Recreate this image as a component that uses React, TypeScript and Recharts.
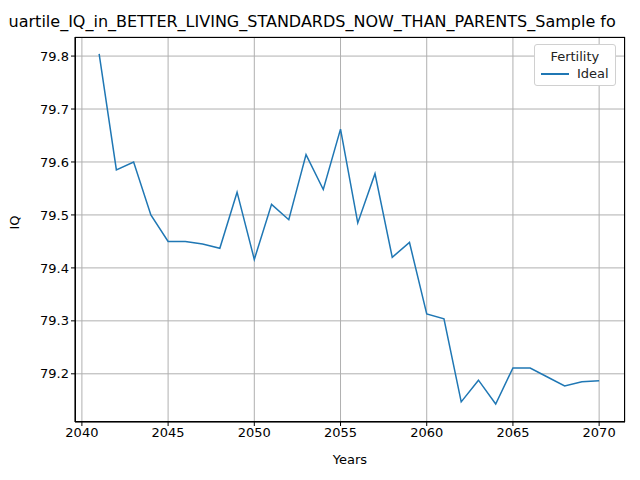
import React from 'react';
import { LineChart, Line, XAxis, YAxis, CartesianGrid, Label } from 'recharts';

const years = [2041, 2042, 2043, 2044, 2045, 2046, 2047, 2048, 2049, 2050, 2051, 2052, 2053, 2054, 2055, 2056, 2057, 2058, 2059, 2060, 2061, 2062, 2063, 2064, 2065, 2066, 2067, 2068, 2069, 2070];
const ideal = [79.804, 79.585, 79.6, 79.5, 79.45, 79.45, 79.445, 79.437, 79.543, 79.416, 79.52, 79.491, 79.614, 79.548, 79.662, 79.485, 79.578, 79.42, 79.448, 79.313, 79.304, 79.147, 79.188, 79.143, 79.211, 79.211, 79.194, 79.177, 79.185, 79.187];
const xTicks = [2040, 2045, 2050, 2055, 2060, 2065, 2070];
const yTicks = [79.2, 79.3, 79.4, 79.5, 79.6, 79.7, 79.8];

const data = years.map((y, i) => ({ year: y, Ideal: ideal[i] }));
const font = 'DejaVu Sans, sans-serif';

function LegendBox() {
    return (
        <div style={{ position: 'absolute', top: 44, left: 534, border: '1px solid #d0d0d0', borderRadius: 3, background: 'white', padding: '4px 6px', fontFamily: font, fontSize: 13, color: '#222' }}>
            <div style={{ textAlign: 'center', marginBottom: 2 }}>Fertility</div>
            <div style={{ display: 'flex', alignItems: 'center' }}>
                <div style={{ width: 28, height: 2, background: '#1f77b4', marginRight: 8 }} />
                <span>Ideal</span>
            </div>
        </div>
    );
}

export default function App() {
    return (
        <div style={{ margin: -8, width: 640, height: 480, position: 'relative', background: 'white', overflow: 'hidden' }}>
            <div style={{ position: 'absolute', top: 12, left: -4, whiteSpace: 'nowrap', fontFamily: font, fontSize: 16, color: '#000' }}>
                Quartile_IQ_in_BETTER_LIVING_STANDARDS_NOW_THAN_PARENTS_Sample fo
            </div>
            <LineChart width={640} height={480} data={data} margin={{ top: 37, right: 15, bottom: 0, left: 0 }}>
                <CartesianGrid stroke="#b0b0b0" />
                <XAxis dataKey="year" type="number" domain={[2039.6, 2071.5]} ticks={xTicks} height={58}
                    tick={{ fill: '#000', fontSize: 13, fontFamily: font }} tickLine={{ stroke: '#000' }} axisLine={{ stroke: '#000' }} tickSize={4}>
                    <Label value="Years" position="insideBottom" offset={16} style={{ fill: '#000', fontSize: 13, fontFamily: font }} />
                </XAxis>
                <YAxis type="number" domain={[79.109, 79.836]} ticks={yTicks} width={75} tickFormatter={(v) => v.toFixed(1)}
                    tick={{ fill: '#000', fontSize: 13, fontFamily: font }} tickLine={{ stroke: '#000' }} axisLine={{ stroke: '#000' }} tickSize={4}>
                    <Label value="IQ" angle={-90} position="insideLeft" offset={14} style={{ fill: '#000', fontSize: 13, fontFamily: font }} />
                </YAxis>
                <Line dataKey="Ideal" stroke="#1f77b4" strokeWidth={1.5} dot={false} isAnimationActive={false} />
            </LineChart>
            <div style={{ position: 'absolute', left: 75, top: 37, width: 550, height: 385, border: '1px solid #000', boxSizing: 'border-box', pointerEvents: 'none' }} />
            <LegendBox />
        </div>
    );
}
